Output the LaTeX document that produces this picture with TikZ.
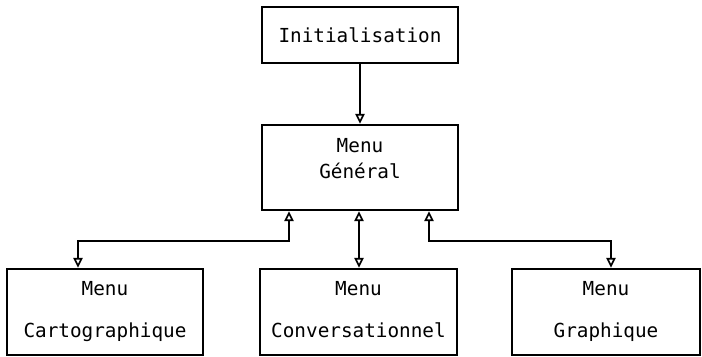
\documentclass[tikz,border=0pt]{standalone}
\usepackage{fontspec}
\setmonofont{DejaVu Sans Mono}
\usetikzlibrary{arrows.meta,positioning,calc}

\tikzset{
    menubox/.style={rectangle, draw, line width=3.4pt, minimum width=9.8cm, align=center, font=\ttfamily\fontsize{27.5}{34}\selectfont},
    tip/.tip={Triangle[open,length=14pt,width=13pt,line width=2.4pt]},
    link/.style={line width=3.4pt, -tip},
    duallink/.style={line width=3.4pt, tip-tip}
}

\begin{document}
\begin{tikzpicture}
    \useasboundingbox (0,0) rectangle (35.1,17.85);

    \node[menubox, minimum height=2.8cm] (init) at (18,16.1) {Initialisation};
    \node[menubox, minimum height=4.25cm] (general) at (18,9.475) {Menu\\[4pt]G\'en\'eral\\[-8pt]};

    \node[menubox, minimum height=4.3cm] (carto) at (5.25,2.25) {\strut Menu\\[26pt]\strut Cartographique};
    \node[menubox, minimum height=4.3cm, minimum width=9.85cm] (conv) at (17.925,2.25) {\strut Menu\\[26pt]\strut Conversationnel};
    \node[menubox, minimum height=4.3cm, minimum width=9.4cm] (graph) at (30.3,2.25) {\strut Menu\\[26pt]\strut Graphique};

    % liaisons
    \draw[link] (init) -- (general);
    \draw[duallink] (general.south -| 14.45,0) -- (14.45,5.8) -| (carto.north -| 3.9,0);
    \draw[duallink] (general.south -| 17.95,0) -- (conv.north -| 17.95,0);
    \draw[duallink] (general.south -| 21.45,0) -- (21.45,5.8) -| (graph.north -| 30.55,0);
\end{tikzpicture}
\end{document}
